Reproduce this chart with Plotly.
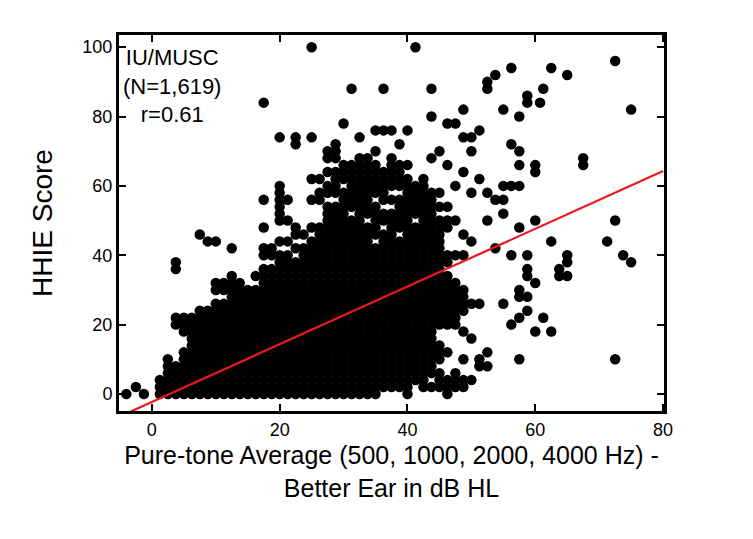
import numpy as np
import plotly.graph_objects as go

STEP = 1.25
# Runs of dots read row by row: (HHIE score, [(x_start, x_end), ...]); single dots as (x, x)
rows = [
    (0,  [(-4, -4), (-1.25, -1.25), (1.25, 35), (40, 40), (46.25, 46.25)]),
    (2,  [(-2.5, -2.5), (1.25, 40), (42.5, 48.75)]),
    (4,  [(1.25, 42.5), (45, 50)]),
    (6,  [(2.5, 45), (47.5, 47.5)]),
    (8,  [(2.5, 43.75), (51.25, 52.5)]),
    (10, [(2.5, 2.5), (5, 45), (48.75, 48.75), (51.25, 51.25), (57.5, 57.5), (72.5, 72.5)]),
    (12, [(5, 46.25), (52.5, 52.5)]),
    (14, [(6.25, 45)]),
    (16, [(6.25, 43.75), (50, 50)]),
    (18, [(5, 43.75), (48.75, 48.75), (60, 60), (62.5, 62.5)]),
    (20, [(3.75, 47.5), (56.25, 56.25)]),
    (22, [(3.75, 47.5), (57.5, 57.5), (61.25, 61.25)]),
    (24, [(7.5, 48.75), (58.75, 58.75)]),
    (26, [(10, 51.25), (55, 55)]),
    (28, [(12.5, 48.75), (57.5, 58.75)]),
    (30, [(10, 48.75), (57.5, 57.5)]),
    (32, [(10, 13.75), (17.5, 47.5), (60, 60)]),
    (34, [(12.5, 12.5), (16.25, 46.25), (58.75, 58.75), (63.75, 65)]),
    (36, [(3.75, 3.75), (17.5, 45), (58.75, 58.75), (63.75, 63.75)]),
    (38, [(3.75, 3.75), (20, 46.25), (65, 65), (75, 75)]),
    (40, [(17.5, 21.25), (23.75, 48.75), (56.25, 56.25), (58.75, 58.75), (65, 65), (73.75, 73.75)]),
    (42, [(12.5, 12.5), (17.5, 18.75), (22.5, 45), (53.75, 53.75)]),
    (44, [(8.75, 10), (20, 21.25), (25, 33.75), (36.25, 45), (50, 50), (62.5, 62.5), (71.25, 71.25)]),
    (46, [(7.5, 7.5), (22.5, 23.75), (26.25, 37.5), (40, 45), (48.75, 48.75)]),
    (48, [(17.5, 17.5), (22.5, 22.5), (25, 35), (37.5, 46.25), (57.5, 57.5)]),
    (50, [(20, 21.25), (27.5, 32.5), (35, 40), (42.5, 47.5), (52.5, 52.5), (60, 60), (72.5, 72.5)]),
    (52, [(20, 20), (27.5, 30), (32.5, 43.75), (55, 55)]),
    (54, [(20, 20), (27.5, 35), (38.75, 46.25)]),
    (56, [(17.5, 17.5), (20, 21.25), (25, 26.25), (30, 33.75), (36.25, 43.75), (53.75, 55)]),
    (58, [(20, 20), (26.25, 36.25), (40, 45), (50, 50), (52.5, 52.5)]),
    (60, [(20, 20), (27.5, 28.75), (31.25, 42.5), (47.5, 47.5), (55, 57.5)]),
    (62, [(25, 26.25), (28.75, 40), (42.5, 42.5), (51.25, 51.25)]),
    (64, [(27.5, 38.75), (48.75, 48.75), (60, 60)]),
    (66, [(30, 35), (37.5, 40), (46.25, 46.25), (57.5, 57.5), (60, 60), (67.5, 67.5)]),
    (68, [(27.5, 28.75), (32.5, 33.75), (37.5, 37.5), (43.75, 43.75), (67.5, 67.5)]),
    (70, [(27.5, 28.75), (35, 35), (45, 45), (50, 50), (57.5, 57.5)]),
    (72, [(22.5, 22.5), (28.75, 28.75), (38.75, 38.75), (56.25, 56.25)]),
    (74, [(20, 20), (22.5, 22.5), (25, 25), (32.5, 32.5), (48.75, 50)]),
    (76, [(35, 37.5), (40, 40), (51.25, 51.25)]),
    (78, [(46.25, 47.5), (30, 30)]),
    (80, [(43.75, 43.75), (57.5, 57.5)]),
    (82, [(48.75, 48.75), (55, 55), (75, 75)]),
    (84, [(17.5, 17.5), (58.75, 58.75), (60.75, 60.75)]),
    (86, [(58.75, 58.75)]),
    (88, [(31.25, 31.25), (36.25, 36.25), (43.75, 43.75), (52.5, 52.5), (61.25, 61.25)]),
    (90, [(52.5, 52.5)]),
    (92, [(53.75, 53.75), (65, 65)]),
    (94, [(56.25, 56.25), (62.5, 62.5)]),
    (96, [(72.5, 72.5)]),
    (100, [(25, 25), (41.25, 41.25)]),
]

fit_slope = 0.832
fit_intercept = -2.3
fit_x = [-4, 80]

xs, ys = [], []
for yv, segs in rows:
    for a, b in segs:
        n = int(round((b - a) / STEP)) + 1
        for k in range(n):
            xs.append(a + k * STEP)
            ys.append(yv)

fig = go.Figure()
fig.add_trace(go.Scatter(x=xs, y=ys, mode="markers",
                         marker=dict(color="black", size=10.5, line=dict(width=0)),
                         showlegend=False, hoverinfo="skip"))
fig.add_trace(go.Scatter(x=fit_x, y=[fit_slope * v + fit_intercept for v in fit_x],
                         mode="lines", line=dict(color="#e8191d", width=2.2),
                         showlegend=False))

fig.add_annotation(x=0.005, y=0.975, xref="paper", yref="paper", xanchor="left", yanchor="top",
                   align="center", showarrow=False,
                   text="IU/MUSC<br>(N=1,619)<br>r=0.61",
                   font=dict(family="Liberation Sans, Arial", size=22, color="black"))
fig.add_shape(type="rect", xref="paper", yref="paper", x0=0, y0=0, x1=1, y1=1,
              line=dict(color="black", width=2), layer="above")

axis_common = dict(showgrid=False, zeroline=False, showline=True, linecolor="black", linewidth=2,
                   mirror="allticks", ticks="inside", ticklen=8, tickwidth=1.5, tickcolor="black",
                   automargin=False,
                   tickfont=dict(family="Liberation Sans, Arial", size=18, color="black"))
fig.update_xaxes(range=[-5.3, 80.3], tickvals=[0, 20, 40, 60, 80], **axis_common,
                 title=dict(text="Pure-tone Average (500, 1000, 2000, 4000 Hz) -<br>Better Ear in dB HL",
                            font=dict(family="Liberation Sans, Arial", size=25, color="black"),
                            standoff=8))
fig.update_yaxes(range=[-5.2, 103.8], tickvals=[0, 20, 40, 60, 80, 100], **axis_common,
                 title=dict(text="HHIE Score",
                            font=dict(family="Liberation Sans, Arial", size=28, color="black"),
                            standoff=22))
fig.update_layout(width=737, height=523, plot_bgcolor="white", paper_bgcolor="white",
                  margin=dict(l=110, r=80, t=26, b=119))
fig.write_html("out.html")
